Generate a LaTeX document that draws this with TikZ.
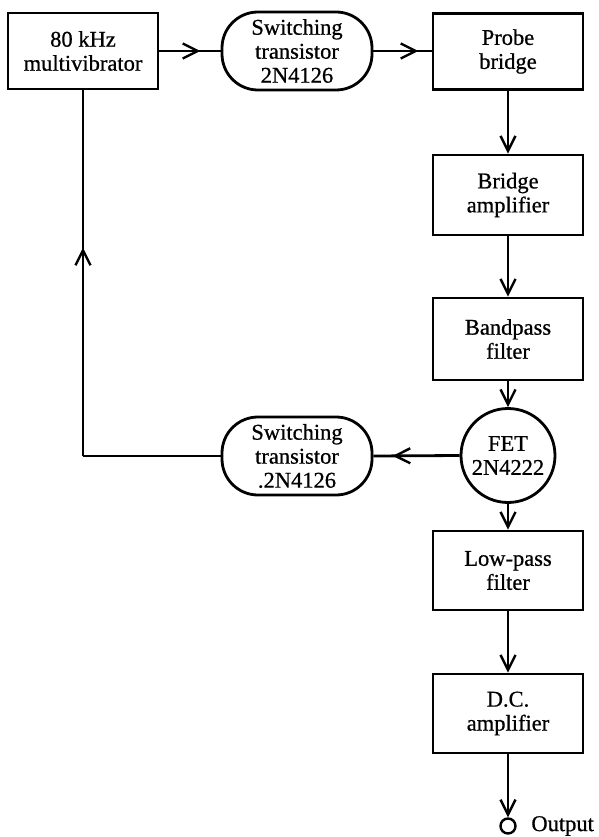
\documentclass[tikz,border=0pt]{standalone}
\usepackage{fontspec}
\setmainfont{Liberation Serif}[FakeBold=0.7]
\usetikzlibrary{arrows.meta,decorations.markings}
\begin{document}
\begin{tikzpicture}[x=1pt,y=-1pt,
  line width=2.8pt,
  every node/.style={font=\fontsize{22.5}{24}\selectfont, align=center, inner sep=0pt},
  blockbox/.style={draw, rectangle, minimum width=150pt, minimum height=78pt},
  pillbox/.style={draw, rectangle, rounded corners=36pt, minimum width=150pt, minimum height=78pt},
  fetbox/.style={draw, circle, minimum size=94pt},
  barb/.style={-{Straight Barb[length=15pt,width=15pt,line width=2.4pt]}},
  midarrow/.style={postaction={decorate}, decoration={markings,
     mark=at position #1 with {\arrow{Straight Barb[length=15pt,width=15pt,line width=2.4pt]}}}}
]
\useasboundingbox (0,0) rectangle (599,837);

\node[blockbox, minimum height=76pt] (mv) at (83,51) {80 kHz\\multivibrator};
\node[pillbox] (sw1) at (297,51) {Switching\\transistor\\2N4126};
\node[blockbox, minimum height=76pt] (pb) at (508,51.5) {Probe\\bridge};
\node[blockbox, minimum height=80pt] (ba) at (508,195) {Bridge\\amplifier};
\node[blockbox, minimum height=82pt] (bp) at (508,339) {Bandpass\\filter};
\node[fetbox] (fet) at (508,455.5) {FET\\2N4222};
\node[pillbox] (sw2) at (297,456) {Switching\\transistor\\.2N4126};
\node[blockbox, minimum height=79pt] (lp) at (508,570.5) {Low-pass\\filter};
\node[blockbox, minimum height=79pt] (dc) at (508,713.5) {D.C.\\amplifier};
\node[draw, circle, minimum size=15pt, line width=2.4pt] (out) at (508,826) {};
\node[anchor=west] (outlbl) at (530,826) {Output};
\coordinate (corner) at (mv.south |- sw2.west);

\draw[midarrow=41pt] (mv.east |- sw1.west) -- (sw1.west);
\draw[midarrow=45pt] (sw1.east) -- (sw1.east -| pb.west);
\draw[barb] (pb) -- (ba);
\draw[barb] (ba) -- (bp);
\draw[barb] (bp) -- (fet);
\draw[barb] (fet) -- (lp);
\draw[barb] (lp) -- (dc);
\draw[barb] (dc) -- (out);
\draw[midarrow=67pt] (fet.west) -- (sw2.east);
\draw (sw2.west) -- (corner);
\draw[midarrow=0.57] (corner) -- (mv.south);
\end{tikzpicture}
\end{document}
